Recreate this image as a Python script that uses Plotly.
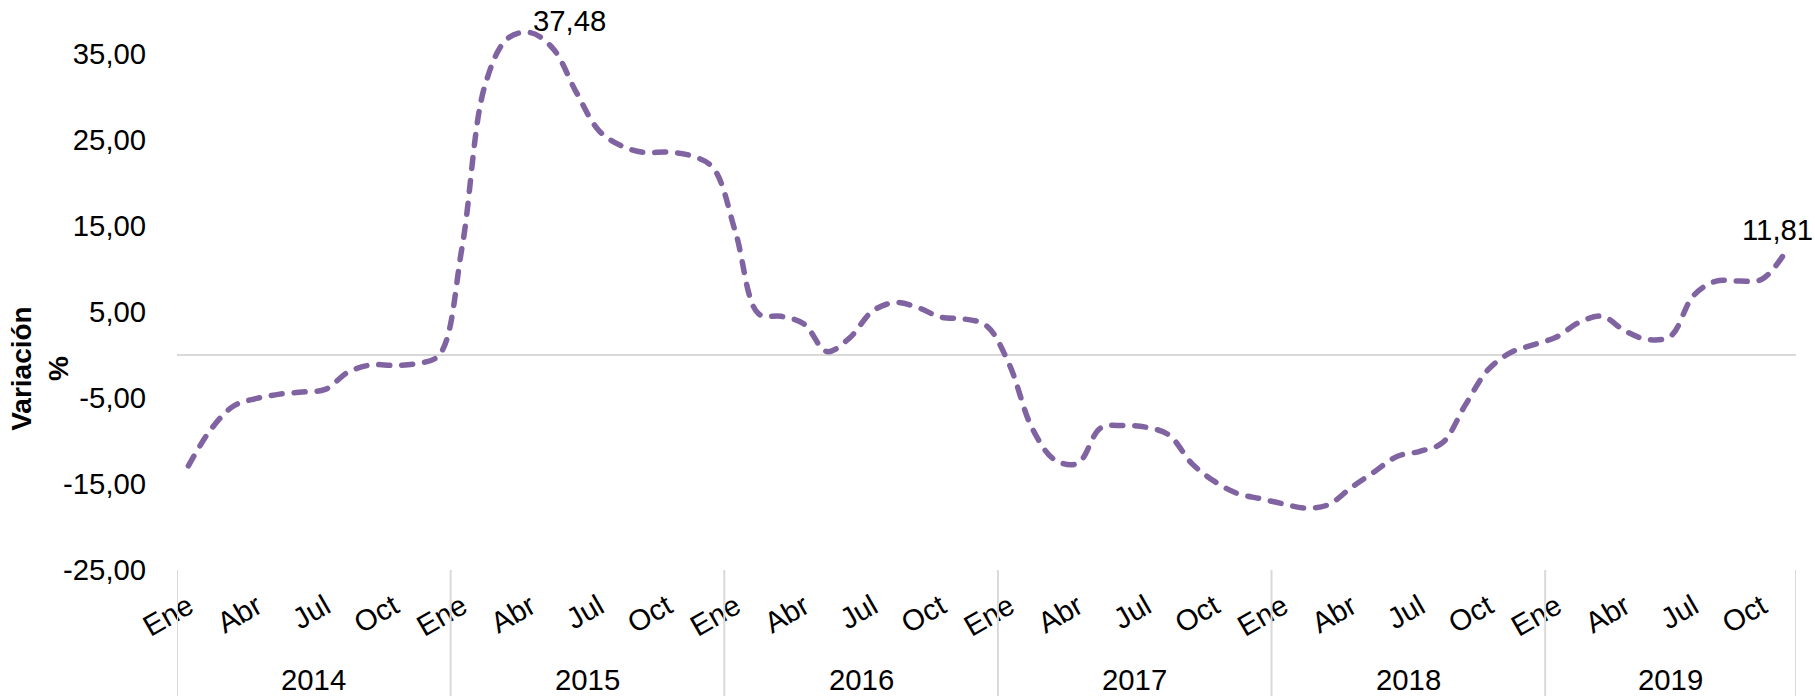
import plotly.graph_objects as go

years = [2014, 2015, 2016, 2017, 2018, 2019]
months = ["Ene", "Feb", "Mar", "Abr", "May", "Jun", "Jul", "Ago", "Sep", "Oct", "Nov", "Dic"]
months_2019 = 11  # data up to Nov 2019

v2014 = [-12.9, -8.6, -5.9, -5.05, -4.55, -4.3, -4.0, -2.0, -1.15, -1.2, -1.0, 0.0]
v2015 = [12.5, 31.3, 36.8, 37.48, 35.6, 30.6, 26.1, 24.3, 23.55, 23.6, 23.2, 21.8]
v2016 = [14.2, 4.8, 4.5, 3.6, 0.4, 2.0, 5.1, 6.1, 5.5, 4.4, 4.2, 3.4]
v2017 = [-1.1, -8.5, -12.2, -12.6, -8.5, -8.2, -8.4, -9.3, -12.6, -14.7, -16.1, -16.7]
v2018 = [-17.3, -17.8, -17.4, -15.4, -13.6, -11.8, -11.2, -10.2, -5.8, -1.7, 0.3, 1.2]
v2019 = [2.1, 3.8, 4.5, 2.8, 1.8, 2.2, 6.9, 8.6, 8.6, 8.8, 11.81]

yticks = [-25, -15, -5, 5, 15, 25, 35]
ytick_text = ["-25,00", "-15,00", "-5,00", "5,00", "15,00", "25,00", "35,00"]
peak_label = ("37,48", 15)
last_label = ("11,81", 70)

values = v2014 + v2015 + v2016 + v2017 + v2018 + v2019
labels = []
year_of = []
for yr in years:
    n = 12 if yr != 2019 else months_2019
    for m in range(n):
        labels.append(months[m])
        year_of.append(yr)
idx = list(range(len(values)))

color = "#8064A2"
grey = "#D9D9D9"
font = "Liberation Sans, Arial, sans-serif"
fs = 29.3

fig = go.Figure()
fig.add_trace(go.Scatter(
    x=idx, y=values, mode="lines",
    line=dict(color=color, width=5.5, dash="11px,12px", shape="spline", smoothing=1.0),
    hoverinfo="skip", showlegend=False,
))

tickvals = [i for i in idx if i % 3 == 0]
ticktext = [labels[i] for i in tickvals]

fig.update_layout(
    width=1815, height=696,
    margin=dict(l=177, r=19, t=11, b=126),
    plot_bgcolor="white", paper_bgcolor="white",
    font=dict(family=font, size=fs, color="black"),
    xaxis=dict(
        range=[-0.5, len(values) - 0.5],
        tickvals=tickvals, ticktext=ticktext, tickangle=-30,
        showgrid=False, showline=False, zeroline=False,
        ticks="outside", ticklen=7, tickcolor="rgba(0,0,0,0)",
        tickfont=dict(size=fs),
    ),
    yaxis=dict(
        range=[-25, 40],
        tickvals=yticks, ticktext=ytick_text,
        showgrid=False, showline=False,
        zeroline=True, zerolinecolor=grey, zerolinewidth=2,
        ticks="outside", ticklen=24, tickcolor="rgba(0,0,0,0)",
        tickfont=dict(size=fs),
    ),
)

# year group labels and separators
start = 0
bounds = [-0.5]
for yr in years:
    n = year_of.count(yr)
    center = start + (n - 1) / 2
    fig.add_annotation(x=center, y=-0.195, xref="x", yref="paper", text=str(yr),
                       showarrow=False, font=dict(size=fs), yanchor="middle")
    start += n
    bounds.append(start - 0.5)
for b in bounds:
    fig.add_shape(type="line", x0=b, x1=b, xref="x", y0=0, y1=-0.24, yref="paper",
                  line=dict(color=grey, width=2))

# data labels
txt, i = peak_label
fig.add_annotation(x=i, y=values[i], text=txt, showarrow=False,
                   xanchor="left", yanchor="middle", xshift=1, yshift=12,
                   font=dict(size=fs))
txt, i = last_label
fig.add_annotation(x=i, y=values[i], text=txt, showarrow=False,
                   xanchor="center", yanchor="middle", xshift=-7, yshift=24,
                   font=dict(size=fs))

# y-axis title
fig.add_annotation(x=-0.0846, y=0.36, xref="paper", yref="paper",
                   text="<b>Variación<br>%</b>",
                   textangle=-90, showarrow=False, font=dict(size=28),
                   xanchor="center", yanchor="middle")

post = """
document.body.style.margin='0';
document.querySelectorAll('.scatterlayer path.js-line').forEach(function(p){
  p.style.strokeLinecap='round';
});
"""
fig.write_html("out.html", post_script=post, config={"displayModeBar": False})
